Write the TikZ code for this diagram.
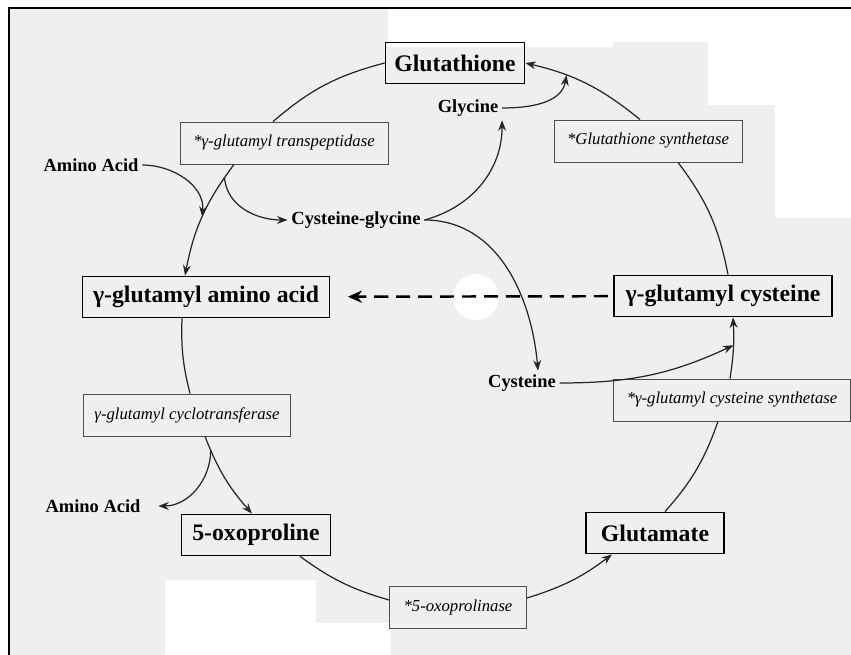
\documentclass[tikz,border=0pt]{standalone}
\usepackage{fontspec}
\setmainfont{Liberation Serif}
\usetikzlibrary{calc}
\usetikzlibrary{arrows.meta}
\usetikzlibrary{positioning}
\definecolor{scan}{HTML}{EFEFEF}
\tikzset{pool/.style={rectangle,draw=black,line width=1pt,font=\fontsize{13.5}{16}\selectfont\bfseries,minimum height=0.82cm,inner xsep=4pt}}
\tikzset{enzyme/.style={rectangle,draw=black!70,line width=0.5pt,font=\fontsize{9.5}{11}\selectfont\itshape,minimum height=0.84cm,inner xsep=3pt}}
\tikzset{side/.style={font=\fontsize{10.5}{12}\selectfont\bfseries,inner sep=2pt}}
\tikzset{flow/.style={line width=0.7pt,draw=black!85}}
\tikzset{arr/.style={-{Stealth[length=6pt,width=4.5pt]}}}

\begin{document}
\begin{tikzpicture}[x=0.02cm,y=0.02cm]
\useasboundingbox (0,0) rectangle (851,655);
% scanned page
\fill[scan] (9,0) rectangle (851,647);
\fill[white] (388,608) rectangle (613,647);
\fill[white] (613,613) rectangle (851,647);
\fill[white] (708,550) rectangle (851,613);
\fill[white] (775,437) rectangle (851,550);
\fill[white] (165,0) rectangle (316,75);
\fill[white] (316,0) rectangle (390,32);
\fill[white] (476,358) circle[radius=23];
\draw[line width=1.1pt] (9,0) -- (9,647) -- (851,647);

\node[pool,minimum width=2.78cm] (glu) at (455,592) {Glutathione};
\node[pool,minimum width=4.94cm] (gaa) at (206,358) {γ-glutamyl amino acid};
\node[pool,minimum width=4.36cm] (gcys) at (723,359) {γ-glutamyl cysteine};
\node[pool,minimum width=2.98cm] (oxo) at (256,120) {5-oxoproline};
\node[pool,minimum width=2.76cm] (glt) at (655,122) {Glutamate};

\node[enzyme,minimum width=4.16cm] (ggt) at (284,512) {*γ-glutamyl transpeptidase};
\node[enzyme,minimum width=3.76cm] (gs) at (648,514) {*Glutathione synthetase};
\node[enzyme,minimum width=4.74cm] (gcs) at (732,255) {*γ-glutamyl cysteine synthetase};
\node[enzyme,minimum width=4.14cm] (gct) at (187,240) {γ-glutamyl cyclotransferase};
\node[enzyme,minimum width=2.74cm] (opl) at (458,48) {*5-oxoprolinase};

\node[side] (aa1) at (91,490) {Amino Acid};
\node[side] (aa2) at (93,149) {Amino Acid};
\node[side] (cg) at (356,435) {Cysteine-glycine};
\node[side] (gly) at (468,547) {Glycine};
\node[side] (cys) at (522,272) {Cysteine};

% the cycle
\draw[flow] (glu.west) to[bend right=13] ($(ggt.north)+(-11,0)$);
\draw[flow,arr] ($(ggt.south)+(-50,0)$) to[bend right=13] coordinate[pos=0.12] (tp) coordinate[pos=0.5] (aaIn) ($(gaa.north)+(-21,0)$);
\draw[flow] ($(gaa.south)+(-24,0)$) to[bend right=8] ($(gct.north)+(3,0)$);
\draw[flow,arr] ($(gct.south)+(18,0)$) to[bend right=10] coordinate[pos=0.15] (ctOut) ($(oxo.north)+(-4,0)$);
\draw[flow] ($(oxo.south)+(44,0)$) to[bend right=10] ($(opl.west)+(0,7)$);
\draw[flow,arr] ($(opl.east)+(0,9)$) to[bend right=10] ($(glt.south)+(-43,0)$);
\draw[flow] ($(glt.north)+(10,0)$) to[bend right=11] ($(gcs.south)+(-14,0)$);
\draw[flow,arr] ($(gcs.north)+(-2,0)$) to[bend right=6] coordinate[pos=0.55] (cysIn) ($(gcys.south)+(10,0)$);
\draw[flow] ($(gcys.north)+(5,0)$) to[bend right=13] ($(gs.south)+(30,0)$);
\draw[flow,arr] ($(gs.north)+(-8,0)$) to[bend right=13] coordinate[pos=0.68] (glyIn) (glu.east);

% side branches
\draw[flow,arr] (aa1.east) to[out=0,in=85] (aaIn);
\draw[flow,arr] (tp) to[out=-85,in=180] (cg.west);
\draw[flow,arr] (cg.east) to[out=15,in=-90] (gly.south east);
\draw[flow,arr] (cg.east) to[out=0,in=95] ($(cys.north)+(16,0)$);
\draw[flow,arr] (gly.east) to[out=0,in=-100] (glyIn);
\draw[flow,arr] (cys.east) to[out=0,in=205] (cysIn);
\draw[flow,arr] (ctOut) to[out=-90,in=0] ($(aa2.east)+(14,0)$);

\draw[line width=1.4pt,dash pattern=on 8pt off 4.5pt,-{Stealth[length=8pt,width=7pt]},shorten >=10pt,shorten <=3pt] (gcys) -- (gaa);
\end{tikzpicture}
\end{document}
